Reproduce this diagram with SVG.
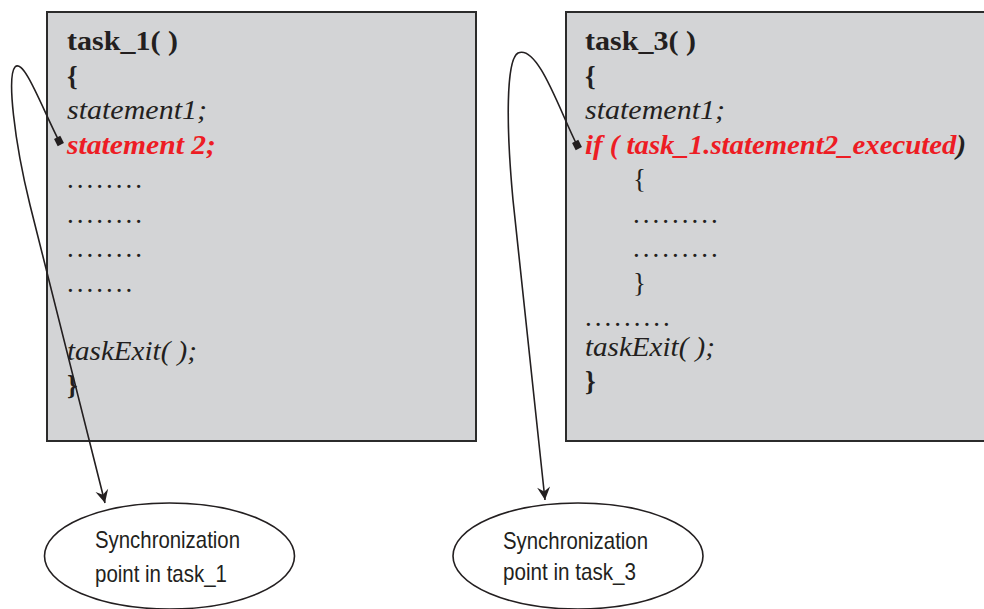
<svg xmlns="http://www.w3.org/2000/svg" width="984" height="609" viewBox="0 0 984 609">
  <style>
    .box { fill: #d3d4d6; stroke: #2b2b2b; stroke-width: 2; }
    .code { font-family: "Liberation Serif", "Times New Roman", serif; font-size: 27px; fill: #231f20; }
    .title { font-weight: bold; }
    .brace { font-weight: bold; }
    .it { font-style: italic; }
    .hot { fill: #ed1c24; font-weight: bold; font-style: italic; }
    .dots { letter-spacing: 3px; }
    .oval { fill: #ffffff; stroke: #231f20; stroke-width: 1.6; }
    .label { font-family: "Liberation Sans", Arial, sans-serif; font-size: 24px; fill: #231f20; }
    .link { fill: none; stroke: #231f20; stroke-width: 1.6; marker-start: url(#sq); marker-end: url(#head); }
  </style>
  <defs>
    <marker id="head" viewBox="-14 -8 16 16" refX="0" refY="0" markerWidth="16" markerHeight="16" markerUnits="userSpaceOnUse" orient="auto">
      <path d="M0,0 L-13,-6.5 L-8.5,0 L-13,6.5 Z" fill="#231f20"/>
    </marker>
    <marker id="sq" viewBox="-5 -5 10 10" refX="0" refY="0" markerWidth="10" markerHeight="10" markerUnits="userSpaceOnUse" orient="auto">
      <rect x="-4" y="-3.5" width="8" height="7" fill="#231f20"/>
    </marker>
  </defs>

  <!-- task_1 code block -->
  <g id="task1">
    <rect class="box" x="47" y="12" width="429" height="429"/>
    <text class="code title" x="67" y="50" textLength="111" lengthAdjust="spacingAndGlyphs">task_1( )</text>
    <text class="code brace" x="67" y="85">{</text>
    <text class="code it" x="67" y="119" textLength="140" lengthAdjust="spacingAndGlyphs">statement1;</text>
    <text class="code hot" x="67" y="153.5" textLength="149" lengthAdjust="spacingAndGlyphs">statement 2;</text>
    <text class="code dots" x="67" y="188">........</text>
    <text class="code dots" x="67" y="222.5">........</text>
    <text class="code dots" x="67" y="257">........</text>
    <text class="code dots" x="67" y="291.5">.......</text>
    <text class="code it" x="67" y="360" textLength="130" lengthAdjust="spacingAndGlyphs">taskExit( );</text>
    <text class="code brace" x="67" y="394">}</text>
  </g>

  <!-- task_3 code block -->
  <g id="task3">
    <rect class="box" x="566" y="12" width="430" height="429"/>
    <text class="code title" x="585" y="50" textLength="111" lengthAdjust="spacingAndGlyphs">task_3( )</text>
    <text class="code brace" x="585" y="85">{</text>
    <text class="code it" x="585" y="119" textLength="140" lengthAdjust="spacingAndGlyphs">statement1;</text>
    <text class="code it" x="585" y="153.5" textLength="381" lengthAdjust="spacingAndGlyphs"><tspan class="hot">if ( task_1.statement2_executed</tspan><tspan font-weight="bold">)</tspan></text>
    <text class="code" x="633" y="188">{</text>
    <text class="code dots" x="633" y="222.5">.........</text>
    <text class="code dots" x="633" y="257">.........</text>
    <text class="code" x="633" y="291.5">}</text>
    <text class="code dots" x="585" y="326">.........</text>
    <text class="code it" x="585" y="356" textLength="130" lengthAdjust="spacingAndGlyphs">taskExit( );</text>
    <text class="code brace" x="585" y="390">}</text>
  </g>

  <!-- synchronization point labels -->
  <g id="sync1">
    <ellipse class="oval" cx="169.5" cy="556" rx="125" ry="53"/>
    <text class="label" x="95" y="548" textLength="145" lengthAdjust="spacingAndGlyphs">Synchronization</text>
    <text class="label" x="95" y="582" textLength="132" lengthAdjust="spacingAndGlyphs">point in task_1</text>
  </g>
  <g id="sync3">
    <ellipse class="oval" cx="578" cy="556" rx="125" ry="53"/>
    <text class="label" x="503" y="549" textLength="145" lengthAdjust="spacingAndGlyphs">Synchronization</text>
    <text class="label" x="503" y="580" textLength="133" lengthAdjust="spacingAndGlyphs">point in task_3</text>
  </g>

  <!-- connectors from statements to their labels -->
  <g id="connectors">
    <path class="link" d="M59,141 C42,108 24,58 15,67 C7,76 14,140 30,205 L105,503"/>
    <path class="link" d="M577,145 C560,112 538,44 518,53 C506,60 506,125 513,200 L545,500"/>
  </g>
</svg>
